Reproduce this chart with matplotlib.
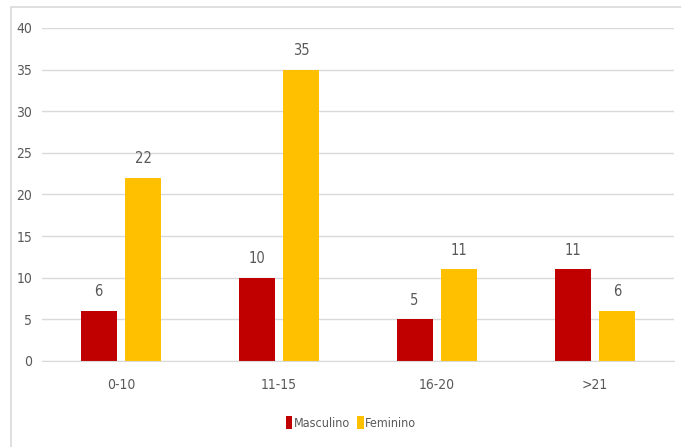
import numpy as np
import matplotlib.pyplot as plt
from matplotlib.patches import Rectangle
from matplotlib import font_manager

names = {f.name for f in font_manager.fontManager.ttflist}
font = 'Liberation Sans Narrow' if 'Liberation Sans Narrow' in names else 'DejaVu Sans'
plt.rcParams['font.family'] = [font, 'DejaVu Sans']
plt.rcParams['font.stretch'] = 'condensed'

categories = ['0-10', '11-15', '16-20', '>21']
masculino = [6, 10, 5, 11]
feminino = [22, 35, 11, 6]

red = '#C00000'
gold = '#FFC000'
txt = '#595959'

fig = plt.figure(figsize=(6.81, 4.47), dpi=100)
fig.patches.append(Rectangle((10.5 / 681, -0.1), 1.2, 1 - 7 / 447 + 0.1,
                             transform=fig.transFigure, fill=False,
                             edgecolor='#D9D9D9', linewidth=1.2))
ax = fig.add_axes([42 / 681, 1 - 361 / 447, 632 / 681, 333 / 447])

x = np.arange(len(categories))
w = 0.228
off = 0.142
b1 = ax.bar(x - off, masculino, w, color=red, label='Masculino')
b2 = ax.bar(x + off, feminino, w, color=gold, label='Feminino')

for bars, vals in [(b1, masculino), (b2, feminino)]:
    for rect, v in zip(bars, vals):
        ax.text(rect.get_x() + rect.get_width() / 2, v + 1.4, str(v),
                ha='center', va='bottom', fontsize=10.5, color=txt)

ax.set_xlim(-0.5, 3.5)
ax.set_ylim(0, 40)
ax.set_yticks(range(0, 41, 5))
ax.set_xticks(x)
ax.set_xticklabels(categories)
ax.grid(axis='y', color='#D9D9D9', linewidth=1)
ax.set_axisbelow(True)
for s in ['top', 'right', 'left']:
    ax.spines[s].set_visible(False)
ax.spines['bottom'].set_color('#D9D9D9')
ax.tick_params(length=0, colors=txt, labelsize=10)
ax.tick_params(axis='x', pad=12)
ax.tick_params(axis='y', pad=7)

fig.legend(loc='center', bbox_to_anchor=(351 / 681, 1 - 423 / 447), ncol=2,
           frameon=False, fontsize=9, labelcolor=txt, handlelength=0.5,
           handleheight=1.2, handletextpad=0.1, columnspacing=0.6)

fig.savefig('out.png', dpi=100)
